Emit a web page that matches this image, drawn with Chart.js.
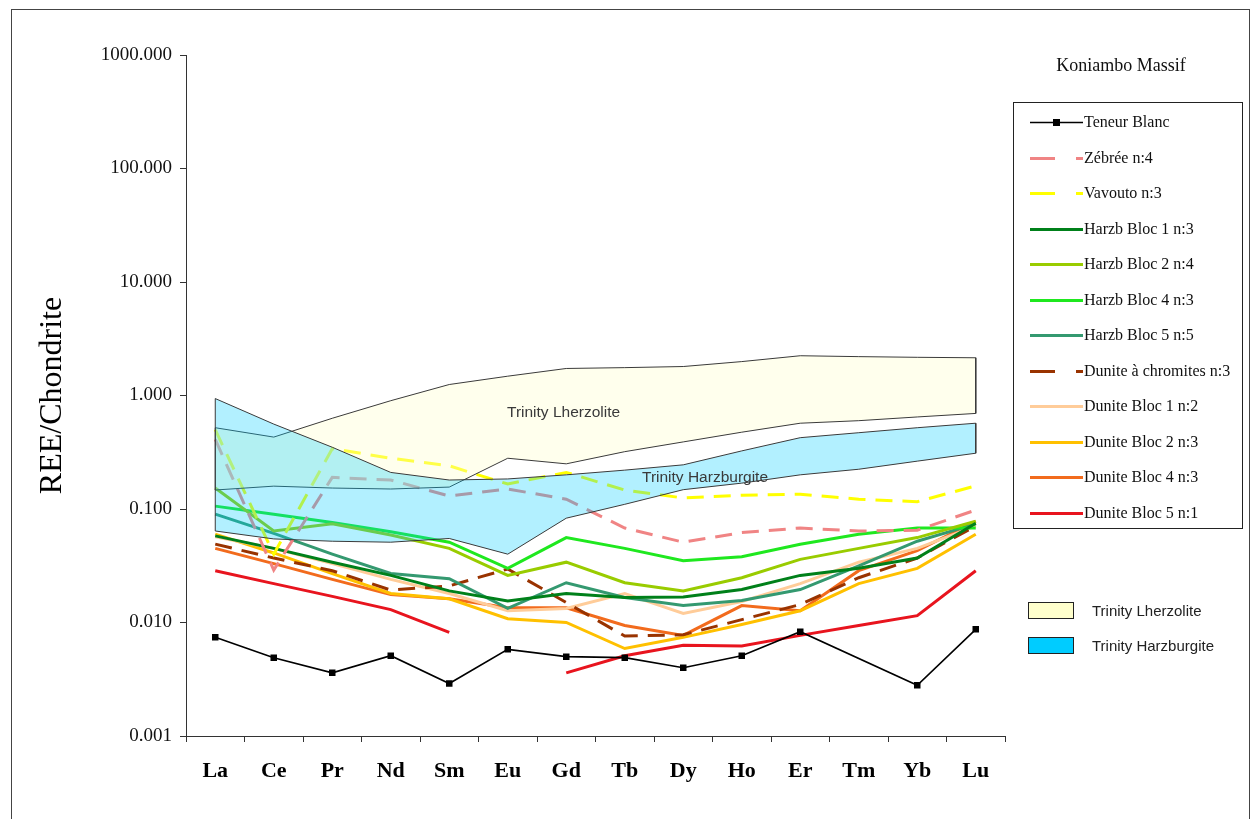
<!DOCTYPE html>
<html>
<head>
<meta charset="utf-8">
<title>Koniambo Massif - REE</title>
<script src="https://cdn.jsdelivr.net/npm/chart.js@4.4.0/dist/chart.umd.min.js"></script>
<style>
  html, body { margin: 0; padding: 0; background: #fff; }
  #wrap { position: relative; width: 1256px; height: 819px; overflow: hidden; }
  #frame { position: absolute; left: 11px; top: 9px; width: 1239px; height: 830px; border: 1px solid #444; box-sizing: border-box; }
  #chart { position: absolute; left: 0; top: 0; }
  .note { position: absolute; font-family: 'Liberation Sans', Arial, sans-serif; font-size: 15.5px; color: #3a3a3a; white-space: nowrap; }
  #title { position: absolute; left: 1011px; width: 220px; top: 55px; text-align: center;
           font-family: 'Liberation Serif', 'Times New Roman', serif; font-size: 18px; color: #111; }
  #legend { position: absolute; left: 1013px; top: 102px; width: 230px; height: 427px; border: 1px solid #222; box-sizing: border-box; }
  .item { position: absolute; left: 16px; height: 20px; line-height: 20px; white-space: nowrap;
          font-family: 'Liberation Serif', 'Times New Roman', serif; font-size: 16px; color: #111; }
  .item svg { position: absolute; left: 0; top: 6px; }
  .item span { position: absolute; left: 54px; top: 0; }
  .zone { position: absolute; left: 1028px; height: 20px; line-height: 20px; white-space: nowrap;
          font-family: 'Liberation Sans', Arial, sans-serif; font-size: 15px; color: #222; }
  .zone i { position: absolute; left: 0; top: 1px; width: 46px; height: 17px; border: 1px solid #222; box-sizing: border-box; }
  .zone span { position: absolute; left: 64px; top: 0; }
</style>
</head>
<body>
<div id="wrap">
  <div id="frame"></div>
  <canvas id="chart" width="1256" height="819"></canvas>
  <div class="note" style="left:507px; top:403px;">Trinity Lherzolite</div>
  <div class="note" style="left:642px; top:468px;">Trinity Harzburgite</div>
  <div id="title">Koniambo Massif</div>
  <div id="legend"></div>
  <div class="zone" style="top:601px;"><i style="background:#FFFFCC"></i><span>Trinity Lherzolite</span></div>
  <div class="zone" style="top:636px;"><i style="background:#00CCFF"></i><span>Trinity Harzburgite</span></div>
</div>
<script>
// REE order (chondrite-normalised)
const ree = ['La', 'Ce', 'Pr', 'Nd', 'Sm', 'Eu', 'Gd', 'Tb', 'Dy', 'Ho', 'Er', 'Tm', 'Yb', 'Lu'];
const yTicks = [0.001, 0.01, 0.1, 1, 10, 100, 1000];

// Sample series
const teneurBlanc = [0.0074, 0.0049, 0.0036, 0.0051, 0.0029, 0.0058, 0.0050, 0.0049, 0.0040, 0.0051, 0.0083, null, 0.0028, 0.0087];
const zebree      = [0.41, 0.029, 0.19, 0.18, 0.13, 0.15, 0.122, 0.068, 0.051, 0.062, 0.068, 0.064, 0.065, 0.098];
const vavouto     = [0.50, 0.040, 0.34, 0.28, 0.24, 0.166, 0.21, 0.147, 0.125, 0.132, 0.135, 0.122, 0.116, 0.16];
const harzBloc1   = [0.058, 0.045, 0.034, 0.026, 0.019, 0.0155, 0.018, 0.0166, 0.0168, 0.0195, 0.026, 0.030, 0.037, 0.075];
const harzBloc2   = [0.153, 0.064, 0.074, 0.059, 0.045, 0.026, 0.034, 0.0224, 0.019, 0.0248, 0.036, 0.045, 0.056, 0.078];
const harzBloc4   = [0.106, 0.090, 0.076, 0.063, 0.051, 0.030, 0.056, 0.045, 0.035, 0.038, 0.049, 0.060, 0.068, 0.068];
const harzBloc5   = [0.090, 0.061, 0.040, 0.027, 0.0243, 0.0133, 0.0224, 0.0166, 0.0141, 0.0156, 0.0195, 0.0316, 0.052, 0.074];
const duniteChrom = [0.049, 0.037, 0.0286, 0.0193, 0.021, 0.0296, 0.015, 0.0076, 0.0078, 0.0106, 0.0144, 0.0248, 0.037, 0.071];
const duniteBloc1 = [0.057, 0.045, 0.033, 0.024, 0.018, 0.0127, 0.0133, 0.018, 0.012, 0.0153, 0.022, 0.034, 0.045, 0.071];
const duniteBloc2 = [0.060, 0.041, 0.027, 0.018, 0.0162, 0.0108, 0.010, 0.0059, 0.0074, 0.0096, 0.0127, 0.022, 0.030, 0.060];
const duniteBloc4 = [0.045, 0.033, 0.024, 0.0176, 0.0162, 0.0135, 0.0135, 0.0094, 0.0077, 0.0141, 0.0127, 0.0286, 0.043, 0.078];
const duniteBloc5 = [0.0286, 0.022, 0.017, 0.013, 0.0082, null, 0.0036, 0.0051, 0.0063, 0.0062, 0.0077, 0.0094, 0.0115, 0.0286];

// Trinity reference fields (upper / lower limits)
const lherzTop    = [0.52, 0.43, 0.63, 0.90, 1.25, 1.48, 1.73, 1.76, 1.80, 1.99, 2.24, 2.20, 2.17, 2.15];
const lherzBottom = [0.147, 0.159, 0.153, 0.150, 0.156, 0.28, 0.25, 0.32, 0.39, 0.475, 0.57, 0.60, 0.647, 0.695];
const harzTop     = [0.94, 0.56, 0.35, 0.21, 0.18, 0.184, 0.20, 0.22, 0.245, 0.325, 0.425, 0.47, 0.52, 0.57];
const harzBottom  = [0.064, 0.0545, 0.052, 0.051, 0.055, 0.040, 0.083, 0.11, 0.148, 0.169, 0.20, 0.224, 0.264, 0.31];

const series = [
  { label: 'Teneur Blanc', data: teneurBlanc, color: '#000000', width: 1.6, marker: true, gaps: true },
  { label: 'Zébrée n:4', data: zebree, color: '#F08484', width: 3, dashed: true },
  { label: 'Vavouto n:3', data: vavouto, color: '#FFFF00', width: 3, dashed: true },
  { label: 'Harzb Bloc 1 n:3', data: harzBloc1, color: '#00801A', width: 3 },
  { label: 'Harzb Bloc 2 n:4', data: harzBloc2, color: '#99CC00', width: 3 },
  { label: 'Harzb Bloc 4 n:3', data: harzBloc4, color: '#1FE81F', width: 3 },
  { label: 'Harzb Bloc 5 n:5', data: harzBloc5, color: '#349970', width: 3 },
  { label: 'Dunite à chromites n:3', data: duniteChrom, color: '#993300', width: 3, dashed: true },
  { label: 'Dunite Bloc 1 n:2', data: duniteBloc1, color: '#FFCC99', width: 3 },
  { label: 'Dunite Bloc 2 n:3', data: duniteBloc2, color: '#FFC000', width: 3 },
  { label: 'Dunite Bloc 4 n:3', data: duniteBloc4, color: '#F26B1D', width: 3 },
  { label: 'Dunite Bloc 5 n:1', data: duniteBloc5, color: '#E8141E', width: 3 }
];

/**
 * Closed outline of a field: upper limit left to right, lower limit back.
 */
function envelope(top, bottom) {
  const pts = top.map((v, i) => ({ x: ree[i], y: v }));
  for (let i = bottom.length - 1; i >= 0; i--) pts.push({ x: ree[i], y: bottom[i] });
  pts.push({ x: ree[0], y: top[0] });
  return pts;
}

const datasets = series.map(s => ({
  label: s.label,
  data: s.data,
  borderColor: s.color,
  backgroundColor: s.color,
  borderWidth: s.width,
  borderDash: s.dashed ? [17, 10] : [],
  pointRadius: s.marker ? 4.6 : 0,
  pointStyle: 'rect',
  pointBorderWidth: 0,
  spanGaps: !!s.gaps,
  tension: 0,
  fill: false,
  order: 0
}));

datasets.push({
  label: 'Trinity Lherzolite',
  data: envelope(lherzTop, lherzBottom),
  borderColor: '#3a3a3a',
  borderWidth: 1,
  backgroundColor: 'rgba(255, 255, 204, 0.35)',
  fill: 'shape',
  pointRadius: 0,
  tension: 0,
  order: -1
});
datasets.push({
  label: 'Trinity Harzburgite',
  data: envelope(harzTop, harzBottom),
  borderColor: '#3a3a3a',
  borderWidth: 1,
  backgroundColor: 'rgba(0, 204, 255, 0.30)',
  fill: 'shape',
  pointRadius: 0,
  tension: 0,
  order: -2
});

new Chart(document.getElementById('chart'), {
  type: 'line',
  data: { labels: ree, datasets },
  options: {
    responsive: false,
    animation: false,
    layout: { padding: { left: 0, top: 55, right: 251, bottom: 0 } },
    plugins: { legend: { display: false }, tooltip: { enabled: false } },
    scales: {
      x: {
        type: 'category',
        offset: true,
        grid: { offset: true, drawOnChartArea: false, drawTicks: true, tickLength: 6, color: '#333' },
        border: { color: '#333', width: 1 },
        ticks: {
          font: { family: 'Liberation Serif', size: 22, weight: 'bold' },
          color: '#000', padding: 16, maxRotation: 0, autoSkip: false
        },
        afterFit: s => { s.height = 83; }
      },
      y: {
        type: 'logarithmic',
        min: 0.001,
        max: 1000,
        afterBuildTicks: s => { s.ticks = yTicks.map(v => ({ value: v })); },
        grid: { drawOnChartArea: false, drawTicks: true, tickLength: 6, color: '#333' },
        border: { color: '#333', width: 1 },
        ticks: {
          callback: v => Number(v).toFixed(3),
          font: { family: 'Liberation Serif', size: 19 },
          color: '#111', padding: 8
        },
        title: {
          display: true, text: 'REE/Chondrite', color: '#000',
          font: { family: 'Liberation Serif', size: 32 },
          padding: { top: 33 }
        },
        afterFit: s => { s.width = 186; }
      }
    }
  }
});

// HTML legend in the Excel style box
const legend = document.getElementById('legend');
series.forEach((s, i) => {
  const item = document.createElement('div');
  item.className = 'item';
  item.style.top = (9 + i * 35.5) + 'px';
  const dash = s.dashed ? ' stroke-dasharray="25 21"' : '';
  const mark = s.marker ? '<rect x="23" y="1" width="7" height="7" fill="#000"/>' : '';
  item.innerHTML =
    `<svg width="53" height="9"><line x1="0" y1="4.5" x2="53" y2="4.5" stroke="${s.color}" stroke-width="${s.width}"${dash}/>${mark}</svg>` +
    `<span>${s.label}</span>`;
  legend.appendChild(item);
});
</script>
</body>
</html>
